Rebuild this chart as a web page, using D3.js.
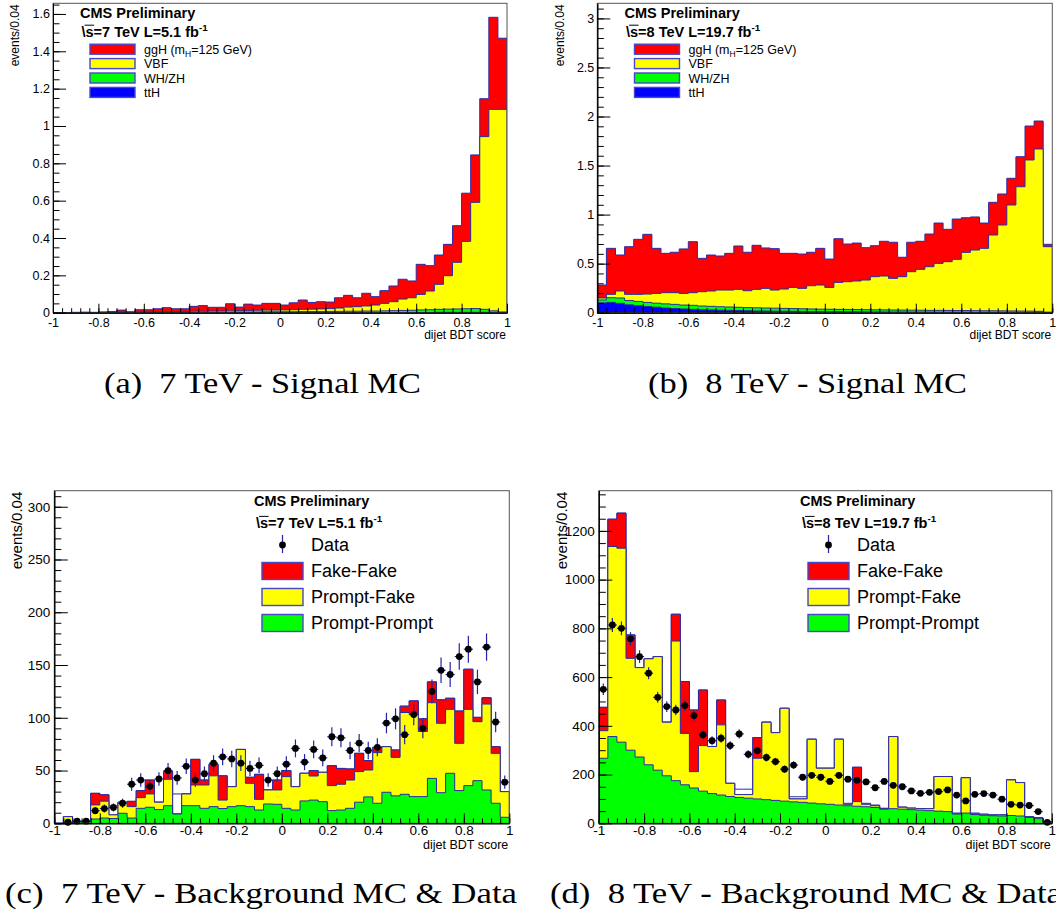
<!DOCTYPE html>
<html>
<head>
<meta charset="utf-8">
<title>Dijet BDT score</title>
<script src="https://cdn.jsdelivr.net/npm/d3@7/dist/d3.min.js"></script>
<style>
  html, body { margin: 0; padding: 0; background: #fff; }
  svg { display: block; }
  .sans { font-family: "Liberation Sans", Arial, Helvetica, sans-serif; }
  .serif { font-family: "Liberation Serif", "DejaVu Serif", serif; white-space: pre; }
</style>
</head>
<body>
<svg id="fig" width="1056" height="915" class="sans"></svg>
<script>
// ---------------------------------------------------------------------------
// Binning of the dijet BDT score: 50 bins of width 0.04 on [-1, 1]
// ---------------------------------------------------------------------------
const bdtLow = -1, bdtHigh = 1, binWidth = 0.04, nBins = 50;
const bdtMajorTicks = [-1, -0.8, -0.6, -0.4, -0.2, 0, 0.2, 0.4, 0.6, 0.8, 1];

// ---------------------------------------------------------------------------
// (a) 7 TeV signal MC, stacked sums per bin
// ---------------------------------------------------------------------------
const sig7_sumAll = [0, 0, 0.002, 0.003, 0.002, 0.004, 0.006, 0.014, 0.005, 0.016,
  0.016, 0.021, 0.027, 0.021, 0.021, 0.034, 0.038, 0.029, 0.029, 0.048,
  0.030, 0.046, 0.041, 0.050, 0.050, 0.041, 0.053, 0.068, 0.055, 0.059,
  0.057, 0.080, 0.093, 0.080, 0.104, 0.086, 0.118, 0.143, 0.179, 0.170,
  0.259, 0.252, 0.309, 0.366, 0.466, 0.640, 0.845, 1.146, 1.582, 1.470];
const sig7_sumVBF = [0, 0, 0.001, 0.001, 0.001, 0.002, 0.002, 0.003, 0.002, 0.004,
  0.004, 0.005, 0.006, 0.006, 0.007, 0.008, 0.008, 0.009, 0.009, 0.010,
  0.011, 0.012, 0.013, 0.014, 0.014, 0.015, 0.016, 0.018, 0.019, 0.020,
  0.022, 0.025, 0.030, 0.032, 0.036, 0.041, 0.050, 0.059, 0.073, 0.080,
  0.098, 0.116, 0.152, 0.198, 0.270, 0.382, 0.591, 0.943, 1.089, 1.089];
const sig7_sumVH = [0, 0, 0, 0, 0, 0.001, 0.001, 0.001, 0.001, 0.001,
  0.001, 0.002, 0.002, 0.002, 0.002, 0.002, 0.003, 0.003, 0.003, 0.003,
  0.004, 0.004, 0.004, 0.005, 0.005, 0.005, 0.005, 0.006, 0.006, 0.006,
  0.007, 0.007, 0.008, 0.008, 0.009, 0.009, 0.010, 0.011, 0.012, 0.013,
  0.015, 0.016, 0.018, 0.019, 0.020, 0.021, 0.022, 0.018, 0.010, 0.004];
const sig7_ttH = [0, 0, 0, 0, 0, 0, 0, 0, 0, 0,
  0, 0, 0, 0, 0, 0, 0, 0, 0, 0,
  0.001, 0.001, 0.001, 0.001, 0.001, 0.001, 0.001, 0.001, 0.001, 0.001,
  0.001, 0.001, 0.001, 0.001, 0.001, 0.001, 0.001, 0.001, 0.001, 0.001,
  0.001, 0.001, 0.002, 0.002, 0.002, 0.002, 0.002, 0.002, 0.001, 0.001];

// ---------------------------------------------------------------------------
// (b) 8 TeV signal MC, stacked sums per bin
// ---------------------------------------------------------------------------
const sig8_sumAll = [0.282, 0.656, 0.588, 0.673, 0.748, 0.799, 0.656, 0.605, 0.616, 0.650,
  0.724, 0.554, 0.588, 0.578, 0.605, 0.680, 0.616, 0.687, 0.660, 0.653,
  0.605, 0.605, 0.598, 0.616, 0.656, 0.547, 0.754, 0.700, 0.710, 0.663,
  0.683, 0.728, 0.718, 0.565, 0.718, 0.728, 0.802, 0.914, 0.850, 0.955,
  0.968, 0.976, 0.914, 1.125, 1.210, 1.370, 1.590, 1.903, 1.954, 0.697];
const sig8_sumVBF = [0.150, 0.187, 0.221, 0.187, 0.187, 0.190, 0.197, 0.204, 0.204, 0.197,
  0.204, 0.214, 0.221, 0.231, 0.231, 0.238, 0.224, 0.238, 0.248, 0.231,
  0.241, 0.258, 0.248, 0.275, 0.282, 0.258, 0.309, 0.316, 0.323, 0.333,
  0.367, 0.374, 0.350, 0.367, 0.418, 0.442, 0.469, 0.503, 0.520, 0.544,
  0.615, 0.639, 0.656, 0.792, 0.894, 1.098, 1.284, 1.557, 1.669, 0.673];
const sig8_sumVH = [0.130, 0.153, 0.150, 0.125, 0.115, 0.105, 0.097, 0.090, 0.085, 0.078,
  0.075, 0.068, 0.065, 0.061, 0.058, 0.055, 0.052, 0.050, 0.048, 0.046,
  0.044, 0.042, 0.040, 0.038, 0.036, 0.035, 0.034, 0.033, 0.032, 0.031,
  0.030, 0.029, 0.028, 0.027, 0.026, 0.025, 0.024, 0.024, 0.023, 0.022,
  0.022, 0.021, 0.020, 0.020, 0.019, 0.018, 0.017, 0.016, 0.014, 0.006];
const sig8_ttH = [0.100, 0.105, 0.095, 0.080, 0.072, 0.063, 0.056, 0.048, 0.042, 0.038,
  0.034, 0.030, 0.028, 0.026, 0.024, 0.022, 0.020, 0.018, 0.017, 0.016,
  0.015, 0.014, 0.013, 0.012, 0.011, 0.010, 0.010, 0.009, 0.009, 0.008,
  0.008, 0.007, 0.007, 0.007, 0.006, 0.006, 0.006, 0.005, 0.005, 0.005,
  0.005, 0.004, 0.004, 0.004, 0.004, 0.004, 0.003, 0.003, 0.003, 0.002];

// ---------------------------------------------------------------------------
// (c) 7 TeV background MC (stacked sums) and data
// ---------------------------------------------------------------------------
const bkg7_outline = [0, 6.3, 1.6, 2, 28.4, 27, 16.4, 19.9, 20.8, 31,
  41, 20, 49, 27.8, 27.8, 60.6, 41, 56, 45, 34.7,
  70, 43.6, 46.4, 31.6, 41, 50, 34.7, 47.4, 50, 48.3,
  54.6, 52, 51.5, 66.3, 59.4, 72, 72.6, 69.5, 111, 116,
  99, 134, 117, 118.5, 106.4, 146, 100.4, 119, 72.6, 30];
const bkg7_sumFakeFake = [0, 6.3, 1.6, 2, 28.4, 27, 8, 19.9, 20.8, 31,
  41, 20, 49, 8.8, 27.8, 60.6, 41, 56, 45, 34.7,
  70, 43.6, 46.4, 31.6, 41, 50, 34.7, 47.4, 50, 48.3,
  54.6, 52, 51.5, 66.3, 59.4, 72, 72.6, 69.5, 111, 116,
  99, 134, 117, 118.5, 106.4, 146, 100.4, 119, 72.6, 30];
const bkg7_sumPromptFake = [0, 6.3, 1.6, 2, 17.4, 21, 8, 19.9, 15.8, 24.3,
  27.8, 20, 41.7, 8.8, 27.8, 36.3, 36.3, 45, 22, 34.7,
  70, 37.9, 22.7, 31.6, 31.6, 44.2, 34.7, 47.4, 44.8, 48.3,
  35.7, 37, 41, 49, 50.5, 67, 72.6, 62.5, 105, 103,
  87, 114.3, 94.8, 108, 75.8, 108, 96.3, 113, 66.3, 30];
const bkg7_promptPrompt = [0, 1, 1.5, 1.6, 4.1, 5, 4.5, 9.5, 5, 14.2,
  15.2, 13, 16.7, 8.8, 16.7, 16.7, 14.2, 15.8, 14, 15.8,
  16.7, 15.8, 12.6, 18.3, 18, 14.2, 12.6, 21.2, 22, 20.5,
  12, 12.6, 14.2, 20, 25, 19, 29.4, 26, 27.5, 25.3,
  25.3, 42.6, 29, 47.4, 31, 35.7, 40.4, 31.6, 19, 5.7];
const data7 = [0, 1, 2, 2, 12, 14, 15, 19, 37, 41,
  35, 42, 50, 43, 54, 41, 47, 57, 63, 61,
  57, 52, 55, 41, 47, 56, 71, 58, 70, 62,
  82, 81, 69, 76, 69, 72, 95, 99, 84, 103,
  90, 125, 145, 141, 158, 165, 134, 167, 96, 39];

// ---------------------------------------------------------------------------
// (d) 8 TeV background MC (stacked sums) and data
// ---------------------------------------------------------------------------
const bkg8_outline = [476, 1248, 1273, 773, 639, 675, 684, 415, 858, 582,
  465, 547, 315, 506, 164, 140, 140, 352, 415, 372,
  472, 109, 109, 345, 226, 226, 345, 82, 230, 82,
  75, 62, 356, 66, 62, 60, 60, 192, 192, 41,
  187, 41, 37, 34, 34, 178, 167, 27, 23, 7];
const bkg8_sumFakeFake = [476, 1248, 1273, 773, 639, 675, 684, 415, 858, 582,
  465, 547, 315, 506, 164, 118, 118, 352, 415, 372,
  472, 100, 100, 345, 226, 226, 345, 78, 230, 78,
  72, 60, 356, 66, 62, 60, 60, 192, 192, 41,
  187, 41, 37, 34, 34, 178, 167, 27, 23, 7];
const bkg8_sumPromptFake = [380, 1136, 1129, 677, 639, 675, 684, 415, 748, 369,
  212, 319, 315, 404, 164, 118, 118, 267, 415, 372,
  472, 100, 100, 345, 226, 226, 345, 78, 89, 78,
  72, 60, 356, 66, 62, 60, 60, 192, 192, 41,
  187, 41, 37, 34, 34, 178, 167, 27, 23, 7];
const bkg8_promptPrompt = [267, 356, 333, 300, 272, 240, 218, 195, 175, 158,
  145, 132, 122, 116, 110, 106, 103, 100, 97, 94,
  91, 88, 86, 83, 80, 78, 75, 72, 70, 68,
  65, 58, 60, 58, 56, 54, 52, 50, 48, 38,
  42, 36, 33, 31, 30, 32, 30, 24, 19, 5];
const data8 = [550, 814, 800, 757, 684, 616, 517, 479, 465, 483,
  442, 363, 339, 349, 319, 367, 283, 298, 270, 253,
  222, 239, 189, 197, 189, 172, 197, 181, 177, 170,
  146, 172, 156, 150, 133, 123, 127, 130, 137, 116,
  92, 119, 122, 116, 99, 78, 75, 73, 48, 4];

// Legend entries
const signalLegend = [
  { name: "ggH", color: "#ff0000" },
  { name: "VBF", color: "#ffff00" },
  { name: "WH/ZH", color: "#00ff00" },
  { name: "ttH", color: "#0000ff" }
];
const backgroundLegend = [
  { name: "Fake-Fake", color: "#ff0000" },
  { name: "Prompt-Fake", color: "#ffff00" },
  { name: "Prompt-Prompt", color: "#00ff00" }
];

// ---------------------------------------------------------------------------
// Drawing helpers
// ---------------------------------------------------------------------------
const svg = d3.select("#fig");
const LINE = "#2a2aa8";
const FONT = '"Liberation Sans", Arial, Helvetica, sans-serif';
let clipCount = 0;

function histPoints(values) {
  const pts = [{ e: bdtLow, v: 0 }];
  values.forEach((v, i) => pts.push({ e: bdtLow + i * binWidth, v }));
  pts.push({ e: bdtHigh, v: values[values.length - 1] });
  pts.push({ e: bdtHigh, v: 0 });
  return pts;
}

function drawHist(g, x, y, values, fill) {
  const pts = histPoints(values);
  const area = d3.area().curve(d3.curveStepAfter)
    .x(d => x(d.e)).y0(y(0)).y1(d => y(d.v));
  const line = d3.line().curve(d3.curveStepAfter)
    .x(d => x(d.e)).y(d => y(d.v));
  g.append("path").attr("d", area(pts)).attr("fill", fill);
  g.append("path").attr("d", line(pts)).attr("fill", "none")
    .attr("stroke", LINE).attr("stroke-width", 1);
}

function fmt(d) { return String(+d.toFixed(3)); }

function drawPanel(p) {
  const g = svg.append("g");
  const x = d3.scaleLinear().domain([bdtLow, bdtHigh]).range([p.left, p.right]);
  const y = d3.scaleLinear().domain([0, p.ymax]).range([p.bottom, p.top]);

  const id = "clip" + (clipCount++);
  svg.append("clipPath").attr("id", id).append("rect")
    .attr("x", p.left).attr("y", p.top)
    .attr("width", p.right - p.left).attr("height", p.bottom - p.top);
  const plot = g.append("g").attr("clip-path", `url(#${id})`);

  p.layers.forEach(l => drawHist(plot, x, y, l.values, l.fill));

  if (p.data) {
    const pts = p.data.map((n, i) => ({ c: bdtLow + (i + 0.5) * binWidth, n }))
      .filter(d => d.n > 0);
    const gd = g.append("g");
    gd.selectAll("line.v").data(pts).join("line").attr("class", "v")
      .attr("x1", d => x(d.c)).attr("x2", d => x(d.c))
      .attr("y1", d => y(d.n + Math.sqrt(d.n))).attr("y2", d => y(Math.max(0, d.n - Math.sqrt(d.n))))
      .attr("stroke", "#2323a6").attr("stroke-width", 1.2);
    gd.selectAll("line.h").data(pts).join("line").attr("class", "h")
      .attr("x1", d => x(d.c - binWidth / 2)).attr("x2", d => x(d.c + binWidth / 2))
      .attr("y1", d => y(d.n)).attr("y2", d => y(d.n))
      .attr("stroke", "#2323a6").attr("stroke-width", 1.2);
    gd.selectAll("circle").data(pts).join("circle")
      .attr("cx", d => x(d.c)).attr("cy", d => y(d.n)).attr("r", 3.4).attr("fill", "#000");
  }

  // frame
  g.append("rect").attr("x", p.left).attr("y", p.top)
    .attr("width", p.right - p.left).attr("height", p.bottom - p.top)
    .attr("fill", "none").attr("stroke", "#555").attr("stroke-width", 1);

  // y axis (ticks drawn inside the frame)
  const yMinor = d3.range(0, p.ymax + 1e-9, p.yMinorStep);
  g.append("g").attr("transform", `translate(${p.left},0)`)
    .call(d3.axisLeft(y).tickValues(yMinor).tickFormat("").tickSizeInner(-p.yMinorLen).tickSizeOuter(0));
  const yb = g.append("g").attr("transform", `translate(${p.left},0)`)
    .call(d3.axisLeft(y).tickValues(p.yMajor).tickFormat(fmt)
      .tickSizeInner(-p.yMajorLen).tickSizeOuter(0).tickPadding(p.yPad));
  yb.attr("font-size", p.tickFont).attr("font-family", FONT);
  yb.selectAll("text").attr("fill", "#000");

  // x axis
  const xMinor = d3.range(0, nBins + 1).map(i => bdtLow + i * binWidth);
  g.append("g").attr("transform", `translate(0,${p.bottom})`)
    .call(d3.axisBottom(x).tickValues(xMinor).tickFormat("").tickSizeInner(-p.xMinorLen).tickSizeOuter(0));
  const xb = g.append("g").attr("transform", `translate(0,${p.bottom})`)
    .call(d3.axisBottom(x).tickValues(bdtMajorTicks).tickFormat(fmt)
      .tickSizeInner(-p.xMajorLen).tickSizeOuter(0).tickPadding(p.xPad));
  xb.attr("font-size", p.tickFont).attr("font-family", FONT);
  g.selectAll(".domain").attr("stroke", "#000");
  g.selectAll(".tick line").attr("stroke", "#000");

  // axis titles
  g.append("text").attr("transform", `translate(${p.yTitleX},${p.top + 1}) rotate(-90)`)
    .attr("text-anchor", "end").attr("font-size", p.yTitleFont).text("events/0.04");
  g.append("text").attr("x", p.right - 1).attr("y", p.xTitleY)
    .attr("text-anchor", "end").attr("font-size", p.xTitleFont).text("dijet BDT score");

  return g;
}

function energyLabel(g, x0, yb, energy, lumi, size) {
  const t = g.append("text").attr("x", x0).attr("y", yb)
    .attr("font-weight", "bold").attr("font-size", size);
  t.append("tspan").text("\\s=" + energy + " TeV L=" + lumi + " fb");
  t.append("tspan").attr("dy", -size * 0.42).attr("font-size", size * 0.68).text("-1");
  const node = t.node();
  const wBack = node.getSubStringLength(0, 1);
  const wS = node.getSubStringLength(1, 1);
  g.append("line")
    .attr("x1", x0 + wBack * 0.75).attr("x2", x0 + wBack + wS + 0.5)
    .attr("y1", yb - size * 0.8).attr("y2", yb - size * 0.8)
    .attr("stroke", "#000").attr("stroke-width", 1);
}

function signalLegendBlock(g, x0, energy, lumi) {
  g.append("text").attr("x", x0).attr("y", 17.5).attr("font-weight", "bold")
    .attr("font-size", 14.5).text("CMS Preliminary");
  energyLabel(g, x0 + 1.5, 36.8, energy, lumi, 14.5);
  signalLegend.forEach((d, i) => {
    const cy = 49.2 + i * 14.4;
    g.append("rect").attr("x", x0 + 10).attr("y", cy - 5).attr("width", 45).attr("height", 10)
      .attr("fill", d.color).attr("stroke", "#4646cc").attr("stroke-width", 1.4);
    const t = g.append("text").attr("x", x0 + 64).attr("y", cy + 4.6).attr("font-size", 12.5);
    if (i === 0) {
      t.append("tspan").text("ggH (m");
      t.append("tspan").attr("dy", 3.5).attr("font-size", 8.5).text("H");
      t.append("tspan").attr("dy", -3.5).text("=125 GeV)");
    } else {
      t.text(d.name);
    }
  });
}

function backgroundLegendBlock(g, x0, energy, lumi) {
  // x0: left edge of the legend boxes
  g.append("text").attr("x", x0 - 8).attr("y", 505.5).attr("font-weight", "bold")
    .attr("font-size", 14.5).text("CMS Preliminary");
  energyLabel(g, x0 - 6, 528, energy, lumi, 14.5);
  const bx = x0, bw = 41, tx = x0 + 49;
  const mx = bx + bw / 2;
  g.append("line").attr("x1", mx).attr("x2", mx).attr("y1", 535).attr("y2", 553)
    .attr("stroke", "#2323a6").attr("stroke-width", 1.2);
  g.append("circle").attr("cx", mx).attr("cy", 545).attr("r", 3.4).attr("fill", "#000");
  g.append("text").attr("x", tx).attr("y", 551).attr("font-size", 18).text("Data");
  backgroundLegend.forEach((d, i) => {
    const top = 562.5 + i * 26;
    g.append("rect").attr("x", bx).attr("y", top).attr("width", bw).attr("height", 17)
      .attr("fill", d.color).attr("stroke", "#4646cc").attr("stroke-width", 1.4);
    g.append("text").attr("x", tx).attr("y", top + 14.5).attr("font-size", 18).text(d.name);
  });
}

// ---------------------------------------------------------------------------
// Panels
// ---------------------------------------------------------------------------
const smallAxes = { tickFont: 12.5, yTitleFont: 12, xTitleFont: 12, yPad: 3, xPad: 5,
  yMajorLen: 13, yMinorLen: 6.5, xMajorLen: 9, xMinorLen: 4.5, xTitleY: 338.5, yTitleX: 19 };
const largeAxes = { tickFont: 13.5, yTitleFont: 15, xTitleFont: 12.5, yPad: 4, xPad: 2.5,
  yMajorLen: 13.5, yMinorLen: 7, xMajorLen: 10, xMinorLen: 5, xTitleY: 848.5 };

const gA = drawPanel(Object.assign({}, smallAxes, {
  left: 53, right: 507, top: 3.3, bottom: 312.7, ymax: 1.657,
  yMajor: [0, 0.2, 0.4, 0.6, 0.8, 1, 1.2, 1.4, 1.6], yMinorStep: 0.05,
  layers: [
    { values: sig7_sumAll, fill: "#ff0000" },
    { values: sig7_sumVBF, fill: "#ffff00" },
    { values: sig7_sumVH, fill: "#00ff00" },
    { values: sig7_ttH, fill: "#0000ff" }
  ]
}));
signalLegendBlock(gA, 80, 7, "5.1");

const gB = drawPanel(Object.assign({}, smallAxes, {
  left: 597.3, right: 1052.3, top: 3.3, bottom: 312.7, ymax: 3.154, yTitleX: 564,
  yMajor: [0, 0.5, 1, 1.5, 2, 2.5, 3], yMinorStep: 0.1,
  layers: [
    { values: sig8_sumAll, fill: "#ff0000" },
    { values: sig8_sumVBF, fill: "#ffff00" },
    { values: sig8_sumVH, fill: "#00ff00" },
    { values: sig8_ttH, fill: "#0000ff" }
  ]
}));
signalLegendBlock(gB, 624.5, 8, "19.7");

const gC = drawPanel(Object.assign({}, largeAxes, {
  left: 54.3, right: 509.3, top: 490.7, bottom: 823.3, ymax: 315.2, yTitleX: 22,
  yMajor: [0, 50, 100, 150, 200, 250, 300], yMinorStep: 10,
  layers: [
    { values: bkg7_outline, fill: "#ffffff" },
    { values: bkg7_sumFakeFake, fill: "#ff0000" },
    { values: bkg7_sumPromptFake, fill: "#ffff00" },
    { values: bkg7_promptPrompt, fill: "#00ff00" }
  ],
  data: data7
}));
backgroundLegendBlock(gC, 262, 7, "5.1");

const gD = drawPanel(Object.assign({}, largeAxes, {
  left: 598.8, right: 1051.8, top: 490.7, bottom: 823.3, ymax: 1365, yTitleX: 567,
  yMajor: [0, 200, 400, 600, 800, 1000, 1200], yMinorStep: 50,
  layers: [
    { values: bkg8_outline, fill: "#ffffff" },
    { values: bkg8_sumFakeFake, fill: "#ff0000" },
    { values: bkg8_sumPromptFake, fill: "#ffff00" },
    { values: bkg8_promptPrompt, fill: "#00ff00" }
  ],
  data: data8
}));
backgroundLegendBlock(gD, 808, 8, "19.7");

// ---------------------------------------------------------------------------
// Sub-figure captions
// ---------------------------------------------------------------------------
const captions = [
  { text: "(a)  7 TeV - Signal MC", x: 104, y: 393, w: 317 },
  { text: "(b)  8 TeV - Signal MC", x: 648, y: 393, w: 319 },
  { text: "(c)  7 TeV - Background MC & Data", x: 5, y: 903, w: 512 },
  { text: "(d)  8 TeV - Background MC & Data", x: 550, y: 903, w: 512 }
];
svg.selectAll("text.caption").data(captions).join("text")
  .attr("class", "caption serif")
  .attr("x", d => d.x).attr("y", d => d.y)
  .attr("font-size", 29)
  .attr("textLength", d => d.w).attr("lengthAdjust", "spacingAndGlyphs")
  .text(d => d.text);
</script>
</body>
</html>
